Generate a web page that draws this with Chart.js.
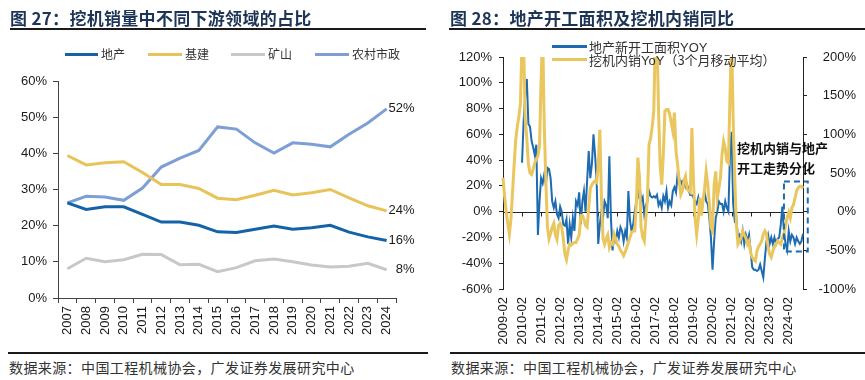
<!DOCTYPE html>
<html>
<head>
<meta charset="utf-8">
<script src="https://cdn.jsdelivr.net/npm/chart.js@4.4.1/dist/chart.umd.min.js"></script>
<style>
  html, body { margin: 0; padding: 0; background: #fff; width: 865px; height: 380px; overflow: hidden; }
  #wrap { position: relative; width: 865px; height: 380px; }
  canvas { position: absolute; z-index: 1; }
  .txt { position: absolute; z-index: 2; white-space: nowrap; }
  .title { top: 5px; height: 20px; line-height: 20px; font: bold 17px "Noto Sans CJK SC", sans-serif; color: #1d3557; letter-spacing: 0.3px; }
  .rule { position: absolute; z-index: 2; height: 2px; background: #1a1a1a; }
  .lg-line { position: absolute; z-index: 2; height: 3px; }
  .lg-text { font: 12px "Noto Sans CJK SC", sans-serif; color: #333; line-height: 14px; height: 14px; }
  .lg-text2 { font: 13px "Noto Sans CJK SC", sans-serif; color: #333; line-height: 15px; height: 15px; }
  .lg-text2 .lat { font-family: "Liberation Sans", Arial, sans-serif; }
  .note { font: bold 13px "Noto Sans CJK SC", sans-serif; color: #111; line-height: 20px; }
  .src { top: 358px; font: 14px "Noto Sans CJK SC", sans-serif; color: #333; line-height: 18px; letter-spacing: 0.4px; }
</style>
</head>
<body>
<div id="wrap">
  <!-- left panel -->
  <div class="txt title" style="left:10px;">图 27：挖机销量中不同下游领域的占比</div>
  <div class="rule" style="left:10px; top:28px; width:416px;"></div>

  <div class="lg-line" style="left:65px; top:53px; width:33px; background:#1463a8;"></div>
  <div class="txt lg-text" style="left:101px; top:47px;">地产</div>
  <div class="lg-line" style="left:148px; top:53px; width:34px; background:#e8c35a;"></div>
  <div class="txt lg-text" style="left:185px; top:47px;">基建</div>
  <div class="lg-line" style="left:231px; top:53px; width:34px; background:#c8c8c8;"></div>
  <div class="txt lg-text" style="left:268px; top:47px;">矿山</div>
  <div class="lg-line" style="left:315px; top:53px; width:34px; background:#7d9fd6;"></div>
  <div class="txt lg-text" style="left:352px; top:47px;">农村市政</div>

  <canvas id="left" width="430" height="343" style="left:0; top:0; width:430px; height:343px;"></canvas>

  <div class="rule" style="left:8px; top:352px; width:420px;"></div>
  <div class="txt src" style="left:9px;">数据来源：中国工程机械协会，广发证券发展研究中心</div>

  <!-- right panel -->
  <div class="txt title" style="left:450px;">图 28：地产开工面积及挖机内销同比</div>
  <div class="rule" style="left:449px; top:28px; width:416px;"></div>

  <div class="lg-line" style="left:552px; top:45px; width:35px; background:#1d6bb0;"></div>
  <div class="txt lg-text2" style="left:589px; top:39px;">地产新开工面积<span class="lat">YOY</span></div>
  <div class="lg-line" style="left:552px; top:58px; width:35px; background:#eac65e;"></div>
  <div class="txt lg-text2" style="left:589px; top:52px;">挖机内销<span class="lat">YoY</span>（3个月移动平均）</div>

  <div class="txt note" style="left:737px; top:138px;">挖机内销与地产<br>开工走势分化</div>

  <canvas id="right" width="430" height="345" style="left:435px; top:0; width:430px; height:345px;"></canvas>

  <div class="rule" style="left:450px; top:352px; width:415px;"></div>
  <div class="txt src" style="left:451px;">数据来源：中国工程机械协会，广发证券发展研究中心</div>
</div>

<script>
// ---------------- Figure 27 data (share of excavator sales, %) ----------------
const years = ['2007','2008','2009','2010','2011','2012','2013','2014','2015','2016','2017','2018','2019','2020','2021','2022','2023','2024'];
const realEstateShare     = [26.3, 24.5, 25.2, 25.2, 23.1, 21.0, 21.0, 20.1, 18.3, 18.1, 19.0, 19.9, 19.0, 19.4, 20.1, 18.2, 16.9, 15.9];
const infraShare          = [39.4, 36.8, 37.4, 37.7, 34.7, 31.4, 31.4, 30.3, 27.6, 27.2, 28.4, 29.8, 28.5, 29.1, 30.0, 27.7, 25.5, 24.1];
const miningShare         = [ 8.1, 11.0, 10.0, 10.6, 12.1, 12.0,  9.2,  9.3,  7.3,  8.4, 10.3, 10.8, 10.0,  9.1,  8.6,  8.8,  9.6,  7.8];
const ruralMunicipalShare = [26.3, 28.1, 27.9, 27.0, 30.4, 36.2, 38.7, 40.8, 47.3, 46.7, 42.9, 40.1, 42.9, 42.5, 41.8, 45.3, 48.4, 52.3];
const shareTicks = [0, 10, 20, 30, 40, 50, 60];

// ---------------- Figure 28 data (monthly, 2009-02 .. 2024-11) ----------------
const yearTickLabels = ['2009-02','2010-02','2011-02','2012-02','2013-02','2014-02','2015-02','2016-02',
                        '2017-02','2018-02','2019-02','2020-02','2021-02','2022-02','2023-02','2024-02'];
// 地产新开工面积YOY (left axis, %)
const startsYoY = [
  null,null,null,null,null,null,null,null,null,null,null,          // 2009 Feb-Dec
  null,38,70,90,103,68,66,55,50,44,52,-18,                          // 2010
  8,26,22,29,21,34,33,26,8,3,8,-2,                                  // 2011
  -5,4,0,-10,-11,-6,-25,-10,-20,-5,-15,8,                           // 2012
  5,15,-10,8,16,0,24,47,26,37,60,44,                                // 2013
  24,-25,-10,0,-5,8,5,-5,43,-5,-30,-20,                             // 2014
  -23,-15,-20,-12,-15,-23,-15,-20,16,-7,-15,-10,                    // 2015
  0,8,11,21,8,11,-2,5,8,16,12,11,                                   // 2016
  12,11,13,5,8,3,12,8,16,3,8,5,                                     // 2017
  16,19,15,29,26,21,24,24,19,21,16,13,                              // 2018
  13,11,8,6,11,3,0,8,16,8,6,-5,                                     // 2019
  -20,-45,-23,-5,0,8,6,6,0,8,3,0,                                   // 2020
  45,62,6,-7,-5,-20,-18,-23,-15,-25,-18,-23,                        // 2021
  -18,-30,-43,-45,-45,-46,-45,-41,-46,-51,-36,-23,                  // 2022
  -18,-25,-20,-25,-20,-25,-21,-20,-10,4,-15,-25,                    // 2023
  -30,-15,-23,-18,-20,-25,-20,-23,-25,-23,-17                       // 2024 Jan-Nov
];
// 挖机内销YoY（3个月移动平均）(right axis, %)
const excavatorYoY = [
  44,20,0,-15,-29,-10,25,60,93,110,123,                             // 2009 Feb-Dec
  140,225,215,120,95,62,50,48,55,63,68,72,                          // 2010
  85,170,230,110,40,-20,-35,-28,-20,-15,-30,-36,                    // 2011
  -18,-15,-20,-35,-55,-62,-50,-42,-43,-41,-40,-40,                  // 2012
  -35,-30,-5,-5,-10,-18,-20,5,30,35,38,40,                          // 2013
  38,60,106,20,-35,-42,-35,-30,-46,-40,-42,-29,                     // 2014
  -35,-42,-45,-50,-53,-57,-52,-46,-40,-33,-27,-25,                  // 2015
  -25,10,70,44,-20,-33,-38,-10,18,87,95,110,                        // 2016
  130,230,230,130,60,35,74,130,132,132,126,115,                     // 2017
  104,128,78,61,40,22,27,40,46,29,27,25,                            // 2018
  108,40,-8,-29,-10,18,-5,14,30,52,35,10,                           // 2019
  -20,-25,35,52,18,30,44,74,91,82,65,63,                            // 2020
  150,230,120,44,-16,-42,-38,-34,-25,-30,-34,-42,                   // 2021
  -38,-53,-59,-62,-64,-51,-45,-42,-38,-29,-25,-29,                  // 2022
  -46,-55,-59,-51,-45,-42,-38,-40,-42,-34,-28,-18,                  // 2023
  -8,-1,-8,5,9,18,27,31,33,33,30                                    // 2024 Jan-Nov
];
const leftAxisTicks  = [-60, -40, -20, 0, 20, 40, 60, 80, 100, 120];
const rightAxisTicks = [-100, -50, 0, 50, 100, 150, 200];
// dashed highlight box (in data units: month index range, left-axis % range)
const boxMonths = [177, 192];
const boxRange  = [-31, 23.5];

// month category labels 2009-02 .. 2024-11
const months = [];
(function () {
  let y = 2009, m = 2;
  while (months.length < excavatorYoY.length) {
    months.push(y + '-' + String(m).padStart(2, '0'));
    m++; if (m > 12) { m = 1; y++; }
  }
})();

Chart.defaults.font.family = '"Liberation Sans", Arial, sans-serif';
Chart.defaults.font.size = 13;
Chart.defaults.color = '#1a1a1a';

// ---------------- Left chart ----------------
const endLabelPlugin = {
  id: 'endLabels',
  afterDatasetsDraw(chart) {
    const ctx = chart.ctx;
    chart.data.datasets.forEach((ds, i) => {
      const meta = chart.getDatasetMeta(i);
      const pt = meta.data[meta.data.length - 1];
      const v = ds.data[ds.data.length - 1];
      ctx.save();
      ctx.font = '13px "Liberation Sans", Arial, sans-serif';
      ctx.fillStyle = '#1a1a1a';
      ctx.textAlign = 'right';
      ctx.textBaseline = 'middle';
      ctx.fillText(Math.round(v) + '%', pt.x + 28, pt.y);
      ctx.restore();
    });
  }
};

const lineDs = (label, data, color) => ({
  label, data, borderColor: color, backgroundColor: color, borderWidth: 3,
  pointRadius: 0, tension: 0, fill: false
});

new Chart(document.getElementById('left'), {
  type: 'line',
  data: {
    labels: years,
    datasets: [
      lineDs('地产', realEstateShare, '#1463a8'),
      lineDs('基建', infraShare, '#e8c35a'),
      lineDs('矿山', miningShare, '#c8c8c8'),
      lineDs('农村市政', ruralMunicipalShare, '#7d9fd6')
    ]
  },
  options: {
    responsive: false, animation: false, devicePixelRatio: 1,
    layout: { padding: { top: 81, right: 34, left: 0, bottom: 0 } },
    plugins: { legend: { display: false }, tooltip: { enabled: false } },
    scales: {
      x: {
        offset: true,
        grid: { display: true, offset: true, drawOnChartArea: false, drawTicks: true, tickLength: 5, color: '#444' },
        border: { display: true, color: '#444', width: 1 },
        ticks: { autoSkip: false, minRotation: 90, maxRotation: 90, padding: 3, color: '#1a1a1a', font: { size: 13 } },
        afterFit(s) { s.height = 45; }
      },
      y: {
        min: 0, max: 60,
        afterBuildTicks(s) { s.ticks = shareTicks.map(v => ({ value: v })); },
        grid: { display: true, drawOnChartArea: false, drawTicks: true, tickLength: 5, color: '#444' },
        border: { display: true, color: '#444', width: 1 },
        ticks: { padding: 6, color: '#1a1a1a', callback: v => v + '%', font: { size: 13 } },
        afterFit(s) { s.width = 58; }
      }
    }
  },
  plugins: [endLabelPlugin]
});

// ---------------- Right chart ----------------
const zeroLinePlugin = {
  id: 'zeroLine',
  beforeDatasetsDraw(chart) {
    const { ctx, chartArea: a, scales: { x, y } } = chart;
    const y0 = Math.round(y.getPixelForValue(0)) + 0.5;
    ctx.save();
    ctx.strokeStyle = '#222';
    ctx.lineWidth = 1;
    ctx.beginPath();
    ctx.moveTo(a.left, y0); ctx.lineTo(a.right, y0);
    x.ticks.forEach(t => {
      const px = Math.round(x.getPixelForValue(t.value)) + 0.5;
      ctx.moveTo(px, y0); ctx.lineTo(px, y0 + 4);
    });
    ctx.stroke();
    ctx.restore();
  }
};
const boxPlugin = {
  id: 'dashBox',
  afterDatasetsDraw(chart) {
    const { ctx, scales: { x, y } } = chart;
    const x1 = x.getPixelForValue(boxMonths[0]), x2 = x.getPixelForValue(boxMonths[1]);
    const y1 = y.getPixelForValue(boxRange[1]), y2 = y.getPixelForValue(boxRange[0]);
    ctx.save();
    ctx.strokeStyle = '#1d6bb0';
    ctx.lineWidth = 2;
    ctx.setLineDash([6, 4]);
    ctx.strokeRect(x1, y1, x2 - x1, y2 - y1);
    ctx.restore();
  }
};

new Chart(document.getElementById('right'), {
  type: 'line',
  data: {
    labels: months,
    datasets: [
      { label: '地产新开工面积YOY', data: startsYoY, yAxisID: 'y', borderColor: '#1d6bb0',
        borderWidth: 2, pointRadius: 0, tension: 0, order: 2, spanGaps: false },
      { label: '挖机内销YoY（3个月移动平均）', data: excavatorYoY, yAxisID: 'y2', borderColor: '#eac65e',
        borderWidth: 3, pointRadius: 0, tension: 0, order: 1, clip: { left: 2, right: 2, top: 0, bottom: 0 } }
    ]
  },
  options: {
    responsive: false, animation: false, devicePixelRatio: 1,
    layout: { padding: { top: 57, right: 9, left: 0, bottom: 0 } },
    plugins: { legend: { display: false }, tooltip: { enabled: false } },
    scales: {
      x: {
        offset: false,
        afterBuildTicks(s) {
          s.ticks = months.map((m, i) => ({ value: i })).filter(t => yearTickLabels.includes(months[t.value]));
        },
        grid: { display: false, drawTicks: false },
        border: { display: false },
        ticks: { autoSkip: false, minRotation: 90, maxRotation: 90, padding: 8, color: '#1a1a1a', font: { size: 13 },
                 callback(v) { return months[v]; } },
        afterFit(s) { s.height = 56; }
      },
      y: {
        position: 'left', min: -60, max: 120,
        afterBuildTicks(s) { s.ticks = leftAxisTicks.map(v => ({ value: v })); },
        grid: { display: true, drawOnChartArea: false, drawTicks: true, tickLength: 4, color: '#222' },
        border: { display: true, color: '#222', width: 1 },
        ticks: { padding: 7, color: '#1a1a1a', callback: v => v + '%', font: { size: 13 } },
        afterFit(s) { s.width = 68; }
      },
      y2: {
        position: 'right', min: -100, max: 200,
        afterBuildTicks(s) { s.ticks = rightAxisTicks.map(v => ({ value: v })); },
        grid: { display: true, drawOnChartArea: false, drawTicks: true, tickLength: 4, color: '#222' },
        border: { display: true, color: '#222', width: 1 },
        ticks: { padding: 7, crossAlign: 'far', color: '#1a1a1a', callback: v => v + '%', font: { size: 13 } },
        afterFit(s) { s.width = 53; }
      }
    }
  },
  plugins: [zeroLinePlugin, boxPlugin]
});
</script>
</body>
</html>
